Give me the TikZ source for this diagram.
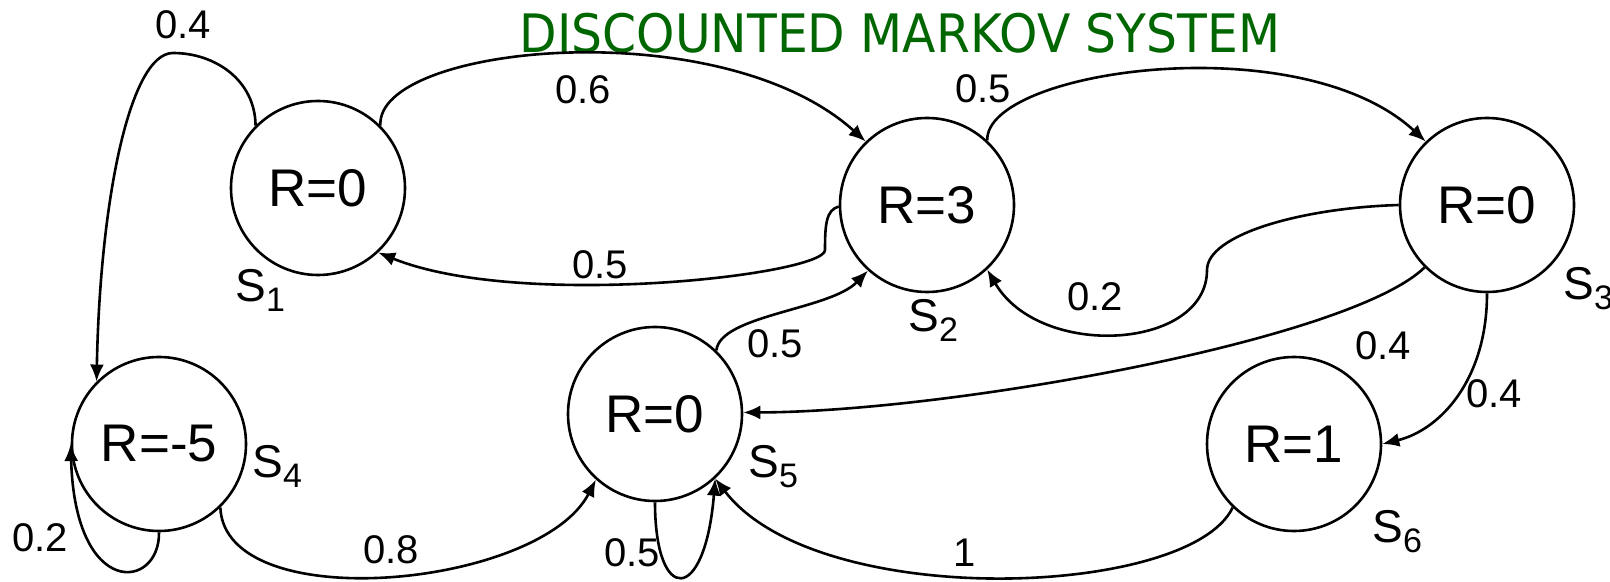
\documentclass[tikz,border=0pt]{standalone}
\usepackage{fontspec}
\setmainfont{Liberation Sans}
\newfontfamily\titlefont{DejaVu Sans}
\usetikzlibrary{arrows.meta}
\definecolor{titlegreen}{RGB}{0,102,0}
% 状态名 S 加下标
\newcommand{\stlabel}[1]{S\raisebox{-5pt}{\fontsize{17}{17}\selectfont #1}}

\begin{document}
\begin{tikzpicture}[x=0.5pt,y=-0.5pt,
    state/.style={draw, circle, line width=1.3pt, minimum size=87pt, inner sep=0pt,
                  font=\fontsize{26.5}{28}\selectfont},
    prob/.style={font=\fontsize{20}{22}\selectfont},
    sname/.style={anchor=base west, inner sep=0pt, font=\fontsize{23}{24}\selectfont},
    link/.style={->, line width=1.3pt},
    >={Latex[length=8.5pt,width=7pt]}]
    \useasboundingbox (0,0) rectangle (1610,582);

    % 标题
    \node[text=titlegreen, xscale=0.92, font=\titlefont\fontsize{26.5}{28}\selectfont] (title) at (900,33) {DISCOUNTED MARKOV SYSTEM};

    % 六个状态 (R 为奖励)
    \node[state] (s1) at (318,188) {R=0};
    \node[state] (s2) at (927,205) {R=3};
    \node[state] (s3) at (1487,205) {R=0};
    \node[state] (s4) at (159,444) {R=-5};
    \node[state] (s5) at (655,414) {R=0};
    \node[state] (s6) at (1294,444) {R=1};

    % 状态名
    \node[sname] (n1) at (235,302) {\stlabel{1}};
    \node[sname] (n2) at (908,332) {\stlabel{2}};
    \node[sname] (n3) at (1563,300) {\stlabel{3}};
    \node[sname] (n4) at (252,477) {\stlabel{4}};
    \node[sname] (n5) at (748,477) {\stlabel{5}};
    \node[sname] (n6) at (1372,542) {\stlabel{6}};

    % 转移箭头
    \draw[link] (s1.135) .. controls (255,80) and (215,53) .. (173,53)
                         .. controls (130,53) and (100,200) .. (s4.135); % S1 -> S4
    \draw[link] (s1.45) .. controls (375,45) and (720,10) .. (s2.134); % S1 -> S2
    \draw[link] (s2.181) .. controls (826,210) and (825,225) .. (825,250)
                         .. controls (825,275) and (520,310) .. (s1.-47); % S2 -> S1
    \draw[link] (s2.47) .. controls (985,70) and (1300,25) .. (s3.134); % S2 -> S3
    \draw[link] (s3.180) .. controls (1300,208) and (1207,235) .. (1207,270)
                         .. controls (1207,350) and (1040,360) .. (s2.-47); % S3 -> S2
    \draw[link] (s3.225) .. controls (1350,340) and (950,412) .. (s5.1); % S3 -> S5
    \draw[link] (s3.-90) .. controls (1487,380) and (1440,430) .. (s6.0); % S3 -> S6
    \draw[link] (s6.226) .. controls (1190,598) and (817,612) .. (s5.-47); % S6 -> S5
    \draw[link] (s5.-90) .. controls (655,605) and (705,605) .. (s5.-47); % S5 自环
    \draw[link] (s5.46) .. controls (720,315) and (830,310) .. (s2.228); % S5 -> S2
    \draw[link] (s4.-46) .. controls (225,618) and (540,588) .. (s5.-132); % S4 -> S5
    \draw[link] (s4.-90) .. controls (160,590) and (75,600) .. (s4.180); % S4 自环

    % 转移概率
    \node[prob] (p14) at (183,25) {0.4};
    \node[prob] (p12) at (583,90) {0.6};
    \node[prob] (p21) at (600,265) {0.5};
    \node[prob] (p23) at (983,89) {0.5};
    \node[prob] (p32) at (1095,297) {0.2};
    \node[prob] (p35) at (1383,346) {0.4};
    \node[prob] (p36) at (1494,394) {0.4};
    \node[prob] (p52) at (775,344) {0.5};
    \node[prob] (p45) at (391,550) {0.8};
    \node[prob] (p55) at (632,553) {0.5};
    \node[prob] (p65) at (965,553) {1};
    \node[prob] (p44) at (40,538) {0.2};
\end{tikzpicture}
\end{document}
